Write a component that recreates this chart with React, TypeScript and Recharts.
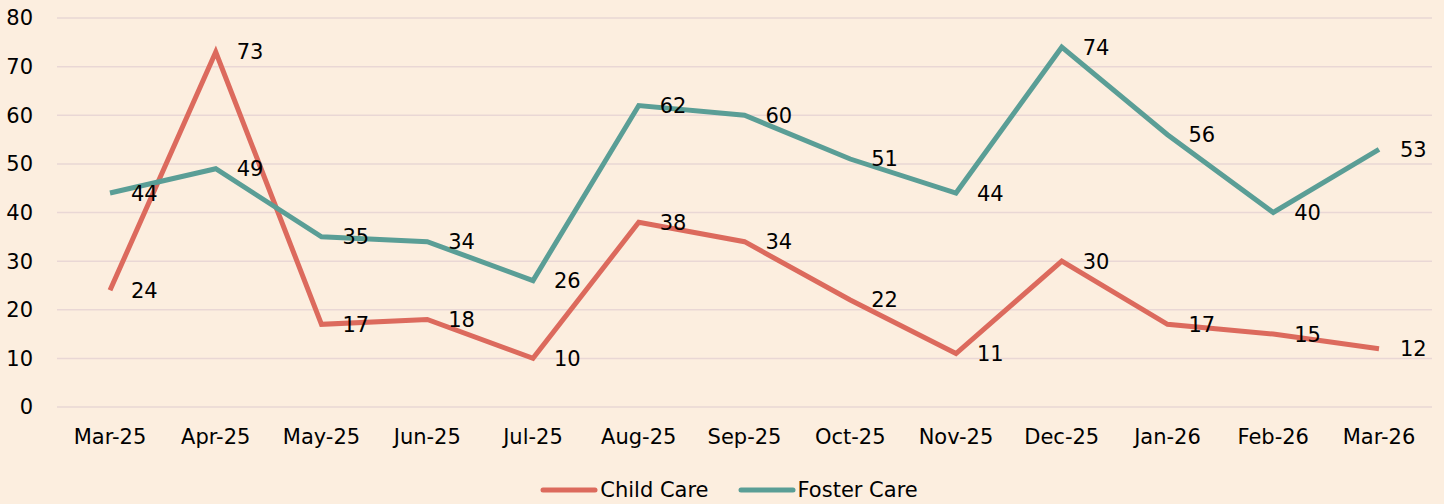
import React from "react";
import { LineChart, Line, XAxis, YAxis, CartesianGrid, Legend, LabelList } from "recharts";

const months = ["Mar-25","Apr-25","May-25","Jun-25","Jul-25","Aug-25","Sep-25","Oct-25","Nov-25","Dec-25","Jan-26","Feb-26","Mar-26"];
const childCare = [24,73,17,18,10,38,34,22,11,30,17,15,12];
const fosterCare = [44,49,35,34,26,62,60,51,44,74,56,40,53];
const yTicks = [0,10,20,30,40,50,60,70,80];

const data = months.map((m, i) => ({ month: m, child: childCare[i], foster: fosterCare[i] }));

const FONT = "'DejaVu Sans', Verdana, sans-serif";
const FS = 21;
const BG = "#FCEEDF";
const CHILD = "#DC6A5D";
const FOSTER = "#5A9E96";

if (typeof document !== "undefined") {
  document.body.style.margin = "0";
  document.body.style.background = BG;
}

const LegendContent = (props: any) => {
  const items = props.payload || [];
  return (
    <div style={{ display: "flex", justifyContent: "center", alignItems: "center", fontFamily: FONT, fontSize: FS, color: "#000", paddingLeft: 14, height: 26 }}>
      {items.map((it: any, i: number) => (
        <div key={i} style={{ display: "flex", alignItems: "center", marginRight: i === 0 ? 29 : 0 }}>
          <svg width={58} height={10} style={{ marginRight: 2 }}>
            <line x1={3} y1={5} x2={55} y2={5} stroke={it.color} strokeWidth={5} strokeLinecap="round" />
          </svg>
          <span>{it.value}</span>
        </div>
      ))}
    </div>
  );
};

export default function App() {
  return (
    <div style={{ width: 1444, height: 504, background: BG, position: "relative" }}>
      <LineChart width={1444} height={504} data={data} margin={{ top: 18, right: 12, left: 0, bottom: 0 }}>
        <CartesianGrid horizontal vertical={false} stroke="#E9D7D5" strokeWidth={1.5} />
        <XAxis
          dataKey="month"
          axisLine={false}
          tickLine={false}
          tickSize={0}
          tickMargin={22}
          height={71}
          interval={0}
          padding={{ left: 53, right: 53 }}
          tick={{ fontFamily: FONT, fontSize: FS, fill: "#000" }}
        />
        <YAxis
          domain={[0, 80]}
          ticks={yTicks}
          axisLine={false}
          tickLine={false}
          tickSize={0}
          tickMargin={24}
          width={57}
          tick={{ fontFamily: FONT, fontSize: FS, fill: "#000" }}
        />
        <Legend
          verticalAlign="bottom"
          content={LegendContent}
          wrapperStyle={{ top: 477, bottom: "auto", left: 0, width: 1444, height: 26 }}
        />
        <Line type="linear" dataKey="child" name="Child Care" stroke={CHILD} strokeWidth={5} dot={false} isAnimationActive={false}>
          <LabelList dataKey="child" position="right" offset={21} style={{ fontFamily: FONT, fontSize: FS, fill: "#000" }} />
        </Line>
        <Line type="linear" dataKey="foster" name="Foster Care" stroke={FOSTER} strokeWidth={5} dot={false} isAnimationActive={false}>
          <LabelList dataKey="foster" position="right" offset={21} style={{ fontFamily: FONT, fontSize: FS, fill: "#000" }} />
        </Line>
      </LineChart>
    </div>
  );
}
